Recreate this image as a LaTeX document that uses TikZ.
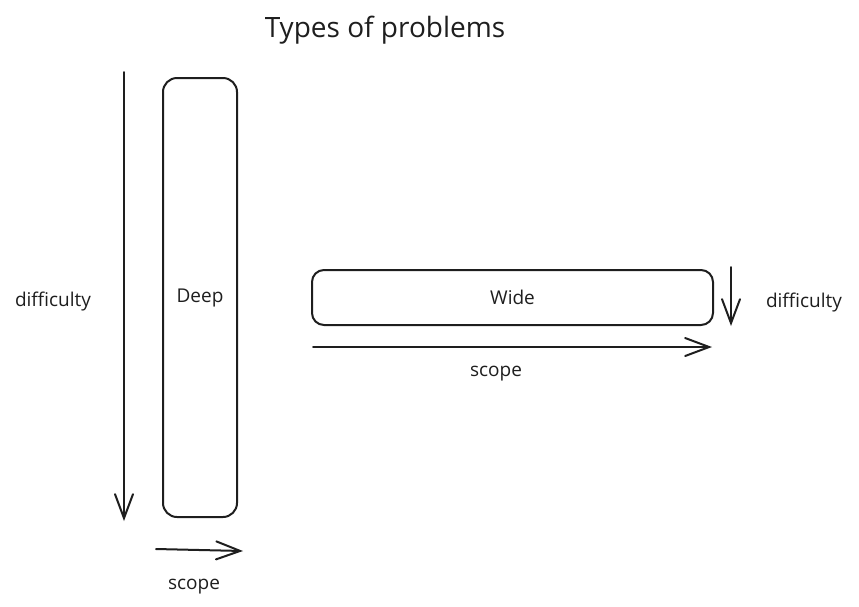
\documentclass[tikz,border=0pt]{standalone}
\usepackage{fontspec}
\setmainfont{Open Sans}
\usepackage{tikz}
\usetikzlibrary{arrows.meta}
\usetikzlibrary{positioning}
\definecolor{ink}{HTML}{1E1E1E}
\tikzstyle{boite}=[draw=ink,line width=2pt,rounded corners=14pt,text=ink,
        font=\fontsize{19}{23}\selectfont]
\tikzstyle{etiq}=[text=ink,font=\fontsize{19}{23}\selectfont]
\tikzstyle{titre}=[text=ink,font=\fontsize{28}{34}\selectfont]
\tikzstyle{fleche}=[draw=ink,line width=2pt,line cap=round,
        -{Straight Barb[length=24pt,width=18pt,line cap=round]}]

\begin{document}
\begin{tikzpicture}[x=1pt,y=-1pt]
\useasboundingbox (0,0) rectangle (859,606);
\node[titre] (titre) at (385,30) {Types of problems};
\node[boite,minimum width=74pt,minimum height=439pt] (deep) at (200,297.5) {Deep};
\node[boite,minimum width=401pt,minimum height=55pt,rounded corners=12pt] (wide) at (512.5,297.5) {Wide};
\node[etiq] (diffg) at (53,302) {difficulty};
\node[etiq] (diffd) at (804,303) {difficulty};
\node[etiq] (scopeg) at (194,587) {scope};
\node[etiq] (scoped) at (496,374) {scope};
%Placement des fleches
\coordinate (gh) at (124,72);
\coordinate (gb) at (124,521);
\coordinate (bg) at (156,549);
\coordinate (bd) at (243,551);
\coordinate (dh) at (731,267);
\coordinate (db) at (731,326);
\coordinate (sg) at (313,347);
\coordinate (sd) at (712,347);
\draw[fleche] (gh) -- (gb);
\draw[fleche] (bg) -- (bd);
\draw[fleche] (dh) -- (db);
\draw[fleche] (sg) -- (sd);
\end{tikzpicture}
\end{document}
